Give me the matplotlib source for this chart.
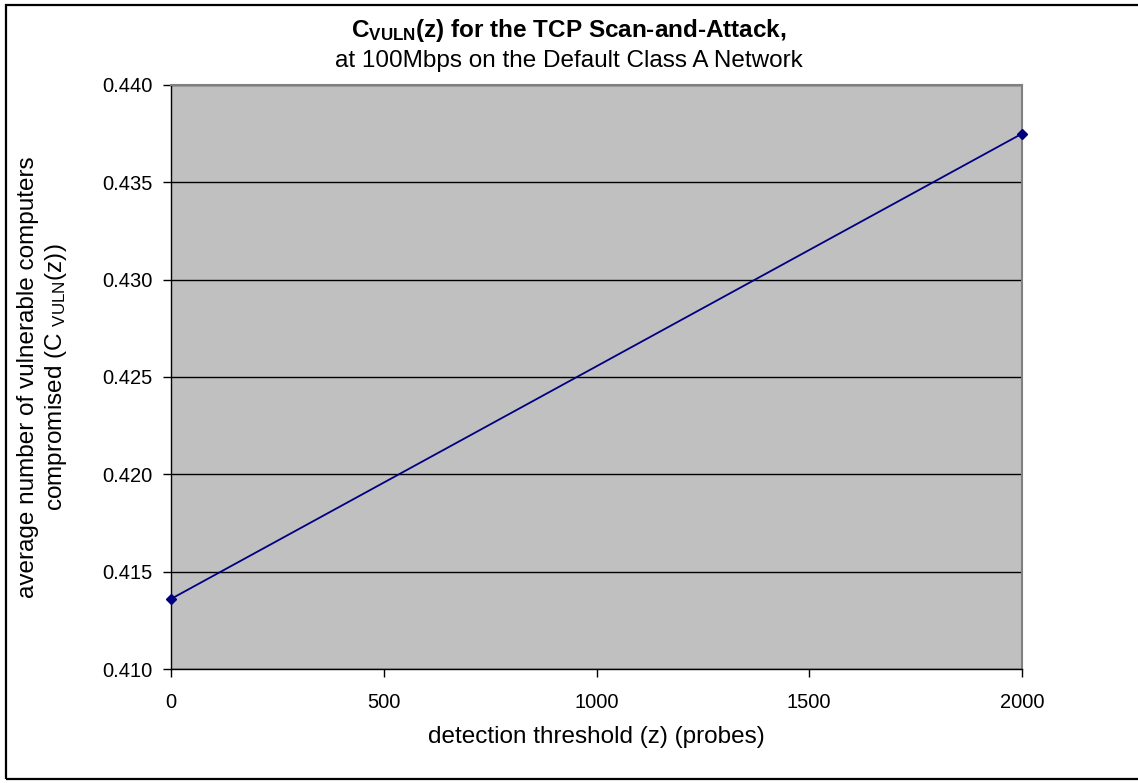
import matplotlib

matplotlib.use("Agg")
import matplotlib.pyplot as plt
from matplotlib.patches import Rectangle

plt.rcParams["font.family"] = ["Liberation Sans", "DejaVu Sans"]
plt.rcParams["mathtext.fontset"] = "custom"
plt.rcParams["mathtext.rm"] = "Liberation Sans"
plt.rcParams["mathtext.it"] = "Liberation Sans"
plt.rcParams["mathtext.bf"] = "Liberation Sans:bold"

# detection threshold z (probes) vs. average compromised vulnerable computers
threshold = [0, 2000]
c_vuln = [0.4136, 0.4375]

x_ticks = [0, 500, 1000, 1500, 2000]
y_ticks = [0.410, 0.415, 0.420, 0.425, 0.430, 0.435, 0.440]

W, H = 1138, 783
fig = plt.figure(figsize=(W / 100, H / 100), dpi=100)
ax = fig.add_axes([171 / W, 1 - 669 / H, 851 / W, 584 / H])

# outer chart frame (right edge runs past the canvas)
fig.patches.append(
    Rectangle((6 / W, 4 / H), 1140 / W, 774 / H, transform=fig.transFigure,
              fill=False, edgecolor="black", linewidth=1.6)
)

ax.set_facecolor("#C0C0C0")
ax.plot(threshold, c_vuln, color="#000080", linewidth=1.3, marker="D",
        markersize=5, clip_on=False, zorder=3)

ax.set_xlim(0, 2000)
ax.set_ylim(0.410, 0.440)
ax.set_xticks(x_ticks)
ax.set_yticks(y_ticks)
ax.set_xticklabels([str(v) for v in x_ticks])
ax.set_yticklabels([f"{v:.3f}" for v in y_ticks])
ax.tick_params(axis="both", direction="out", length=6, width=1, labelsize=14.5,
               colors="black")
ax.tick_params(axis="x", pad=11)
ax.tick_params(axis="y", pad=7)
ax.yaxis.grid(True, color="black", linewidth=1)
ax.set_axisbelow(True)

for side in ("top", "right"):
    ax.spines[side].set_color("#808080")
    ax.spines[side].set_linewidth(1.5)
for side in ("left", "bottom"):
    ax.spines[side].set_color("black")
    ax.spines[side].set_linewidth(1)

ax.set_xlabel("detection threshold (z) (probes)", fontsize=17.5, va="center")
ax.xaxis.set_label_coords(0.5, (669 - 737) / 584)
ax.set_ylabel("average number of vulnerable computers\ncompromised (C $_{VULN}$(z))",
              fontsize=17.5, va="center", ha="center", linespacing=1.25)
ax.yaxis.set_label_coords((43 - 171) / 851, 0.5)

fig.text(0.5, 1 - 37 / H, r"$\mathbf{C_{VULN}}$(z) for the TCP Scan-and-Attack,",
         ha="center", va="baseline", fontsize=17.5, fontweight="bold")
fig.text(0.5, 1 - 67 / H, "at 100Mbps on the Default Class A Network",
         ha="center", va="baseline", fontsize=17.5)

fig.savefig("out.png", dpi=100)
